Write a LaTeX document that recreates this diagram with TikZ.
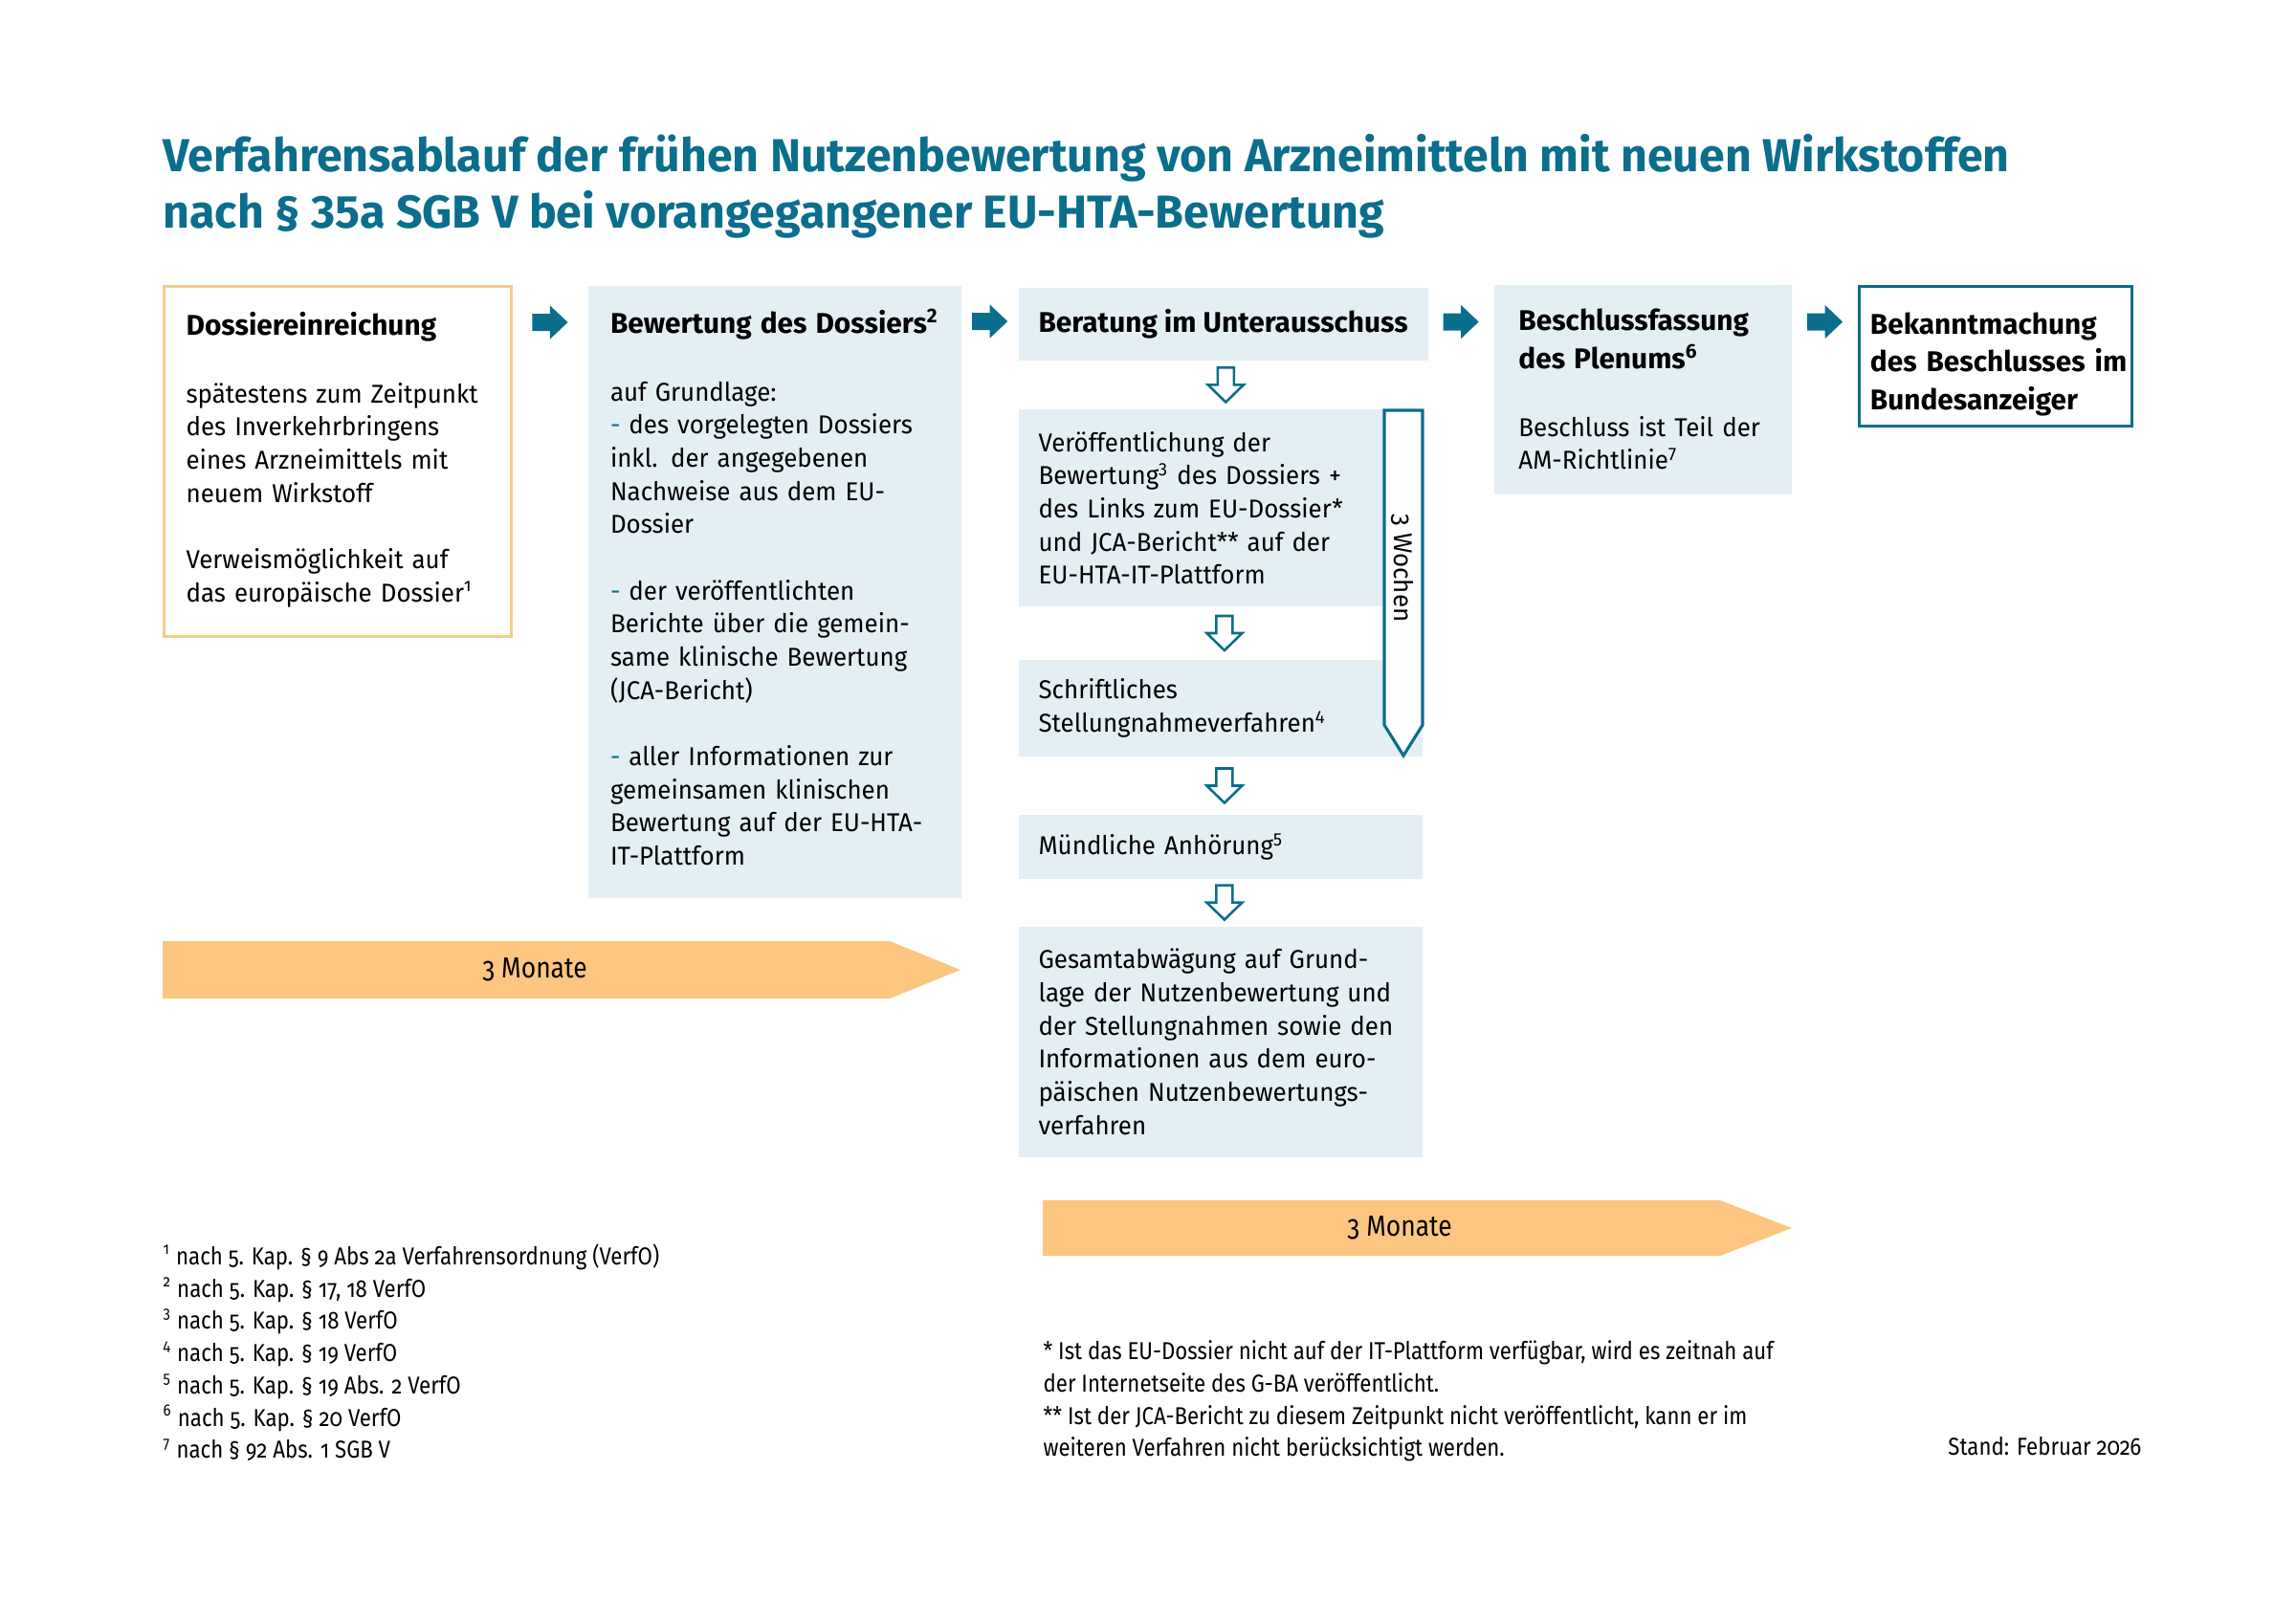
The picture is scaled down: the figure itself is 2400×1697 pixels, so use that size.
\documentclass[tikz,border=0pt]{standalone}
\usepackage{fontspec}
\setmainfont{Fira Sans}[FakeStretch=0.96,Numbers=OldStyle]
\newfontfamily\schmal{Fira Sans}[FakeStretch=0.87,Numbers=OldStyle]
\newfontfamily\titelschrift{Fira Sans}
\usetikzlibrary{calc}
\definecolor{bundesblau}{HTML}{0A6E8C}
\definecolor{hellblau}{HTML}{E4EFF4}
\definecolor{orangeBalken}{HTML}{FDC680}
\definecolor{orangeRahmen}{HTML}{F6CC8C}

\newcommand{\fliess}{\fontsize{9.5}{12.2}\selectfont}
\newcommand{\kopf}{\titelschrift\fontsize{10.5}{14}\selectfont\bfseries}
\newcommand{\strich}{\textcolor{bundesblau}{-}}

\begin{document}
\begin{tikzpicture}[x=0.12375mm, y=-0.12375mm,
    kasten/.style={rectangle, fill=hellblau, anchor=north west, align=left,
                   inner ysep=0pt, inner xsep=2.6mm, font=\fliess},
    kopfkasten/.style={kasten, font=\kopf},
    spalte/.style={kasten, text width=47.1mm, minimum width=52.3mm},
    pfeil/.pic={\fill[bundesblau] (-18.5,-9) -- (0,-9) -- (0,-17.5) -- (18.5,0)
                -- (0,17.5) -- (0,9) -- (-18.5,9) -- cycle;},
    hohlpfeil/.pic={\draw[bundesblau, line width=0.9pt, fill=white] (-8.5,-18) -- (8.5,-18)
                -- (8.5,0) -- (18.5,0) -- (0,18) -- (-18.5,0) -- (-8.5,0) -- cycle;},
    balken/.style={fill=orangeBalken},
    balkentext/.style={font=\schmal\fontsize{10.7}{13}\selectfont},
    fussnote/.style={anchor=north west, align=left, inner sep=0pt,
                     font=\schmal\fontsize{9}{11.9}\selectfont}
  ]
  \useasboundingbox[fill=white] (0,0) rectangle (2400,1697);

  % Titel
  \node[anchor=north west, align=left, inner sep=0pt, text=bundesblau,
        font=\titelschrift\bfseries\fontsize{17}{20.8}\selectfont] (titel) at (170,140)
    {Verfahrensablauf der frühen Nutzenbewertung von Arzneimitteln mit neuen Wirkstoffen\\
     nach § 35a SGB V bei vorangegangener EU-HTA-Bewertung};

  % Erste Reihe
  \node[kasten, fill=white, draw=orangeRahmen, line width=1.1pt, inner xsep=2.85mm,
        text width=39.2mm, minimum width=44.9mm, minimum height=45.3mm] (dossier) at (170,298)
    {\mbox{\kopf Dossiereinreichung}\\[12.6pt]
     spätestens zum Zeitpunkt\\ des Inverkehrbringens\\ eines Arzneimittels mit\\ neuem Wirkstoff\\[12.2pt]
     Verweismöglichkeit auf\\ das europäische Dossier\textsuperscript{1}\rule[-1.2mm]{0pt}{0pt}};

  \node[kasten, inner xsep=2.9mm, text width=42.5mm, minimum width=48.3mm,
        minimum height=79.2mm] (bewertung) at (614,298)
    {\mbox{\kopf Bewertung des Dossiers\textsuperscript{2}}\\[12.6pt]
     auf Grundlage:\\
     \strich{} des vorgelegten Dossiers\\ inkl. der angegebenen\\ Nachweise aus dem EU-\\ Dossier\\[12.2pt]
     \strich{} der veröffentlichten\\ Berichte über die gemein-\\ same klinische Bewertung\\ (JCA-Bericht)\\[12.2pt]
     \strich{} aller Informationen zur\\ gemeinsamen klinischen\\ Bewertung auf der EU-HTA-\\ IT-Plattform\rule[-1.2mm]{0pt}{0pt}};

  \node[kopfkasten, anchor=north west, align=center, minimum width=52.3mm,
        minimum height=9.5mm] (beratung) at (1064,300) {Beratung im Unterausschuss};

  \node[kasten, inner xsep=3.2mm, text width=32.1mm, minimum width=38.5mm,
        minimum height=27.1mm] (plenum) at (1561,297)
    {\mbox{\kopf Beschlussfassung}\\[1.8pt] \mbox{\kopf des Plenums\textsuperscript{6}}\\[12.6pt]
     Beschluss ist Teil der\\ AM-Richtlinie\textsuperscript{7}};

  \node[kopfkasten, fill=white, draw=bundesblau, line width=1.1pt, inner xsep=1.4mm,
        text width=32.5mm, minimum width=35.3mm, minimum height=18.1mm] (bekannt) at (1942,298)
    {\mbox{\rule{0pt}{4.8mm}Bekanntmachung}\\ \mbox{des Beschlusses im}\\ \mbox{Bundesanzeiger}};

  % Unterausschuss
  \node[spalte, minimum height=25.6mm] (veroeff) at (1064,427)
    {Veröffentlichung der\\ Bewertung\textsuperscript{3} des Dossiers +\\ des Links zum EU-Dossier*\\
     und JCA-Bericht** auf der\\ EU-HTA-IT-Plattform};
  \node[spalte, minimum height=12.6mm] (schrift) at (1064,689)
    {Schriftliches\\ Stellungnahmeverfahren\textsuperscript{4}};
  \node[spalte, minimum height=8.3mm] (muendlich) at (1064,851)
    {Mündliche Anhörung\textsuperscript{5}};
  \node[spalte, minimum height=29.9mm] (gesamt) at (1064,968)
    {Gesamtabwägung auf Grund-\\ lage der Nutzenbewertung und\\ der Stellungnahmen sowie den\\
     Informationen aus dem euro-\\ päischen Nutzenbewertungs-\\ verfahren};

  % 3 Wochen
  \draw[bundesblau, line width=1.1pt, fill=white] (1447,429) -- (1487,429) -- (1487,758)
    -- (1467,790) -- (1447,758) -- cycle;
  \node[rotate=-90, font=\fliess] (wochen) at (1466,594) {3 Wochen};

  % Pfeile
  \pic at ($(dossier.north east)!0.5!(bewertung.north west) + (0,39)$) {pfeil};
  \pic at ($(bewertung.north east)!0.5!(beratung.north west) + (0,37)$) {pfeil};
  \pic at ($(beratung.north east)!0.5!(plenum.north west) + (0,38)$) {pfeil};
  \pic at ($(plenum.north east)!0.5!(bekannt.north west) + (0,39)$) {pfeil};
  \foreach \a/\b in {beratung/veroeff, veroeff/schrift, schrift/muendlich, muendlich/gesamt} {
    \pic at ($(\a.south)!0.5!(\b.north) + (4,0)$) {hohlpfeil};
  }

  % Zeitbalken
  \fill[balken] (170,984) -- (930,984) -- (1004,1014) -- (930,1044) -- (170,1044) -- cycle;
  \node[balkentext] (monate1) at (559,1014) {3 Monate};
  \fill[balken] (1090,1255) -- (1798,1255) -- (1873,1284) -- (1798,1313) -- (1090,1313) -- cycle;
  \node[balkentext] (monate2) at (1463,1284) {3 Monate};

  % Fussnoten
  \node[fussnote] (fussnoten) at (170,1300)
    {\textsuperscript{1} nach 5. Kap. § 9 Abs 2a Verfahrensordnung (VerfO)\\
     \textsuperscript{2} nach 5. Kap. § 17, 18 VerfO\\
     \textsuperscript{3} nach 5. Kap. § 18 VerfO\\
     \textsuperscript{4} nach 5. Kap. § 19 VerfO\\
     \textsuperscript{5} nach 5. Kap. § 19 Abs. 2 VerfO\\
     \textsuperscript{6} nach 5. Kap. § 20 VerfO\\
     \textsuperscript{7} nach § 92 Abs. 1 SGB V};
  \node[fussnote] (sternchen) at (1090,1401)
    {* Ist das EU-Dossier nicht auf der IT-Plattform verfügbar, wird es zeitnah auf\\
     der Internetseite des G-BA veröffentlicht.\\
     ** Ist der JCA-Bericht zu diesem Zeitpunkt nicht veröffentlicht, kann er im\\
     weiteren Verfahren nicht berücksichtigt werden.};
  \node[fussnote, anchor=north east] (stand) at (2239,1502) {Stand: Februar 2026};
\end{tikzpicture}
\end{document}
